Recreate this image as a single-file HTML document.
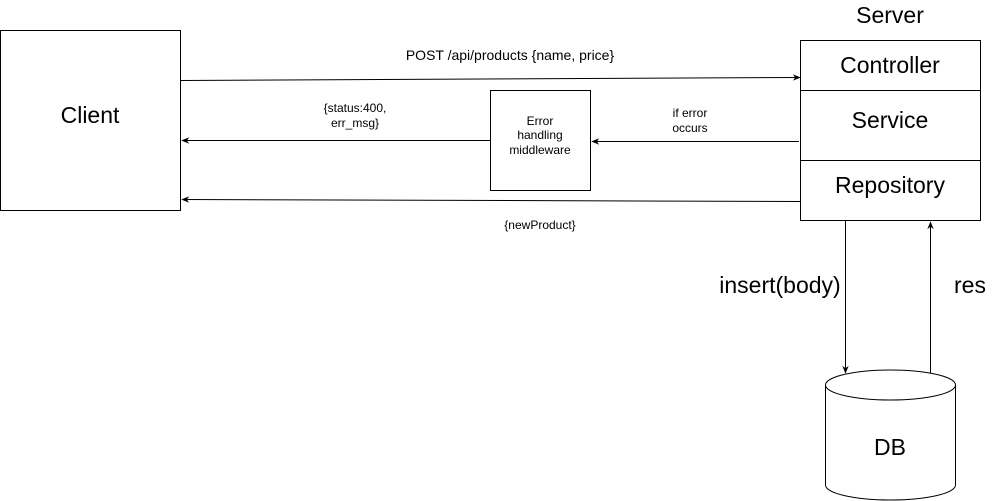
<!DOCTYPE html>
<html><head><meta charset="utf-8"><style>
html,body{margin:0;padding:0;background:#fff;}
svg{display:block;font-family:"Liberation Sans",sans-serif;}
</style></head><body>
<svg width="1001" height="501" viewBox="0 0 1001 501" xmlns="http://www.w3.org/2000/svg">
<defs>
<marker id="a" viewBox="0 0 10 10" refX="9" refY="5" markerWidth="8" markerHeight="8" orient="auto" markerUnits="userSpaceOnUse">
<path d="M0,1 L10,5 L0,9 L3,5 z" fill="#000"/></marker>
</defs>
<g fill="none" stroke="#000" stroke-width="1">
<rect x="0.5" y="30.5" width="180" height="180"/>
<rect x="800.5" y="40.5" width="180" height="180"/>
<line x1="800.5" y1="90.5" x2="980.5" y2="90.5"/>
<line x1="800.5" y1="160.5" x2="980.5" y2="160.5"/>
<rect x="490.5" y="90.5" width="100" height="100"/>
<line x1="181" y1="80.5" x2="800" y2="77.5" marker-end="url(#a)"/>
<line x1="799" y1="141.5" x2="592" y2="141.5" marker-end="url(#a)"/>
<line x1="490" y1="140.5" x2="182" y2="140.5" marker-end="url(#a)"/>
<line x1="800" y1="201.5" x2="182" y2="199.5" marker-end="url(#a)"/>
<line x1="845.5" y1="221" x2="845.5" y2="373" marker-end="url(#a)"/>
<line x1="930.5" y1="375" x2="930.5" y2="222" marker-end="url(#a)"/>
<path d="M825.5,385 A65,15 0 0 1 955.5,385 L955.5,485 A65,15 0 0 1 825.5,485 Z" fill="#fff"/>
<path d="M825.5,385 A65,15 0 0 0 955.5,385"/>
</g>
<g fill="#000" text-anchor="middle">
<text x="90" y="123" font-size="23">Client</text>
<text x="890" y="23" font-size="23">Server</text>
<text x="890" y="73" font-size="23">Controller</text>
<text x="890" y="128" font-size="23">Service</text>
<text x="890" y="193" font-size="23">Repository</text>
<text x="890" y="455" font-size="23">DB</text>
<text x="780" y="293" font-size="23">insert(body)</text>
<text x="970" y="293" font-size="23">res</text>
<text x="510" y="60" font-size="14">POST /api/products {name, price}</text>
<text x="355" y="112" font-size="12">{status:400,</text>
<text x="355" y="127" font-size="12">err_msg}</text>
<text x="540" y="125" font-size="12">Error</text>
<text x="540" y="139" font-size="12">handling</text>
<text x="540" y="154" font-size="12">middleware</text>
<text x="690" y="117" font-size="12">if error</text>
<text x="690" y="132" font-size="12">occurs</text>
<text x="540" y="229" font-size="12">{newProduct}</text>
</g>
</svg>
</body></html>
